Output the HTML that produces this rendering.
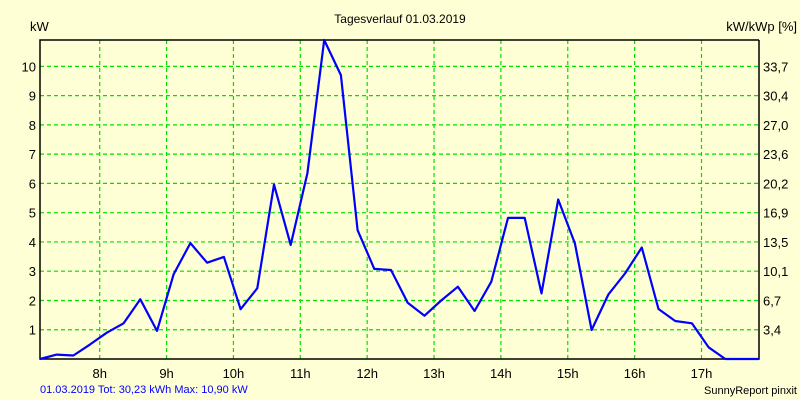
<!DOCTYPE html>
<html><head><meta charset="utf-8"><style>
html,body{margin:0;padding:0;background:#ffffd5;}
svg{display:block;font-family:"Liberation Sans",sans-serif;}
</style></head><body>
<svg id="chart" width="800" height="400" viewBox="0 0 800 400">
<rect x="0" y="0" width="800" height="400" fill="#ffffd5"/>
<text x="400" y="23" font-size="12" text-anchor="middle">Tagesverlauf 01.03.2019</text>
<text x="30" y="31" font-size="13">kW</text>
<text x="797" y="31" font-size="13" text-anchor="end">kW/kWp [%]</text>
<g id="grid"></g>
<g id="axes"></g>
<g id="ticks"></g>
<polyline id="line" fill="none" stroke="#0000ff" stroke-width="2.2" stroke-linejoin="round"/>
<text x="40" y="393" font-size="11" fill="#0000ff">01.03.2019 Tot: 30,23 kWh Max: 10,90 kW</text>
<text x="797" y="394" font-size="11" text-anchor="end">SunnyReport pinxit</text>
</svg>
<script>
const startMinute = 426.4;
const stepMinutes = 15;
const powerKW = [0,0.15,0.12,0.5,0.9,1.22,2.04,0.96,2.9,3.96,3.29,3.49,1.7,2.42,5.96,3.9,6.35,10.9,9.7,4.4,3.08,3.04,1.92,1.48,2.0,2.47,1.64,2.64,4.82,4.82,2.24,5.45,3.95,0.99,2.2,2.92,3.81,1.71,1.3,1.22,0.4,0,0,0];
const hourTicks = [8,9,10,11,12,13,14,15,16,17];
const leftTicks = [1,2,3,4,5,6,7,8,9,10];
const rightTickLabels = ["3,4","6,7","10,1","13,5","16,9","20,2","23,6","27,0","30,4","33,7"];
const yMax = 10.9, xMinH = 7.107, xMaxH = 17.86;
const L=40,R=759,T=40,B=359;
const ns="http://www.w3.org/2000/svg";
const xs=h=>L+(h-xMinH)/(xMaxH-xMinH)*(R-L);
const ys=v=>B-v/yMax*(B-T);
function mk(tag,attrs,parent){const e=document.createElementNS(ns,tag);for(const k in attrs)e.setAttribute(k,attrs[k]);parent.appendChild(e);return e;}
const grid=document.getElementById('grid'),axes=document.getElementById('axes'),ticks=document.getElementById('ticks');
hourTicks.forEach(h=>{const x=xs(h);
 const g=mk('line',{x1:x,x2:x,y1:T,y2:B,stroke:'#00e000','stroke-width':1.2,'stroke-dasharray':'4,3'},grid);
 
 
 const t=mk('text',{x:x,y:378,'font-size':13,'text-anchor':'middle'},ticks);t.textContent=h+'h';
 
 
});
leftTicks.forEach((v,i)=>{const y=ys(v);
 const g=mk('line',{x1:L,x2:R,y1:y,y2:y,stroke:'#00e000','stroke-width':1.2,'stroke-dasharray':'4,3'},grid);
 
 
 const t=mk('text',{x:36,y:y+5,'font-size':13,'text-anchor':'end'},ticks);t.textContent=v;
 
 
 const t2=mk('text',{x:763,y:y+5,'font-size':13},ticks);t2.textContent=rightTickLabels[i];
 
 
});
const ax=mk('path',{d:`M${R} ${T} H${L} V${B} H${R} V${T}`,fill:'none',stroke:'#000','stroke-width':1.5},axes);


const pts=powerKW.map((v,i)=>{const h=(startMinute+i*stepMinutes)/60;return xs(h).toFixed(1)+','+ys(v).toFixed(1);});
document.getElementById('line').setAttribute('points',pts.join(' '));
</script>
</body></html>
